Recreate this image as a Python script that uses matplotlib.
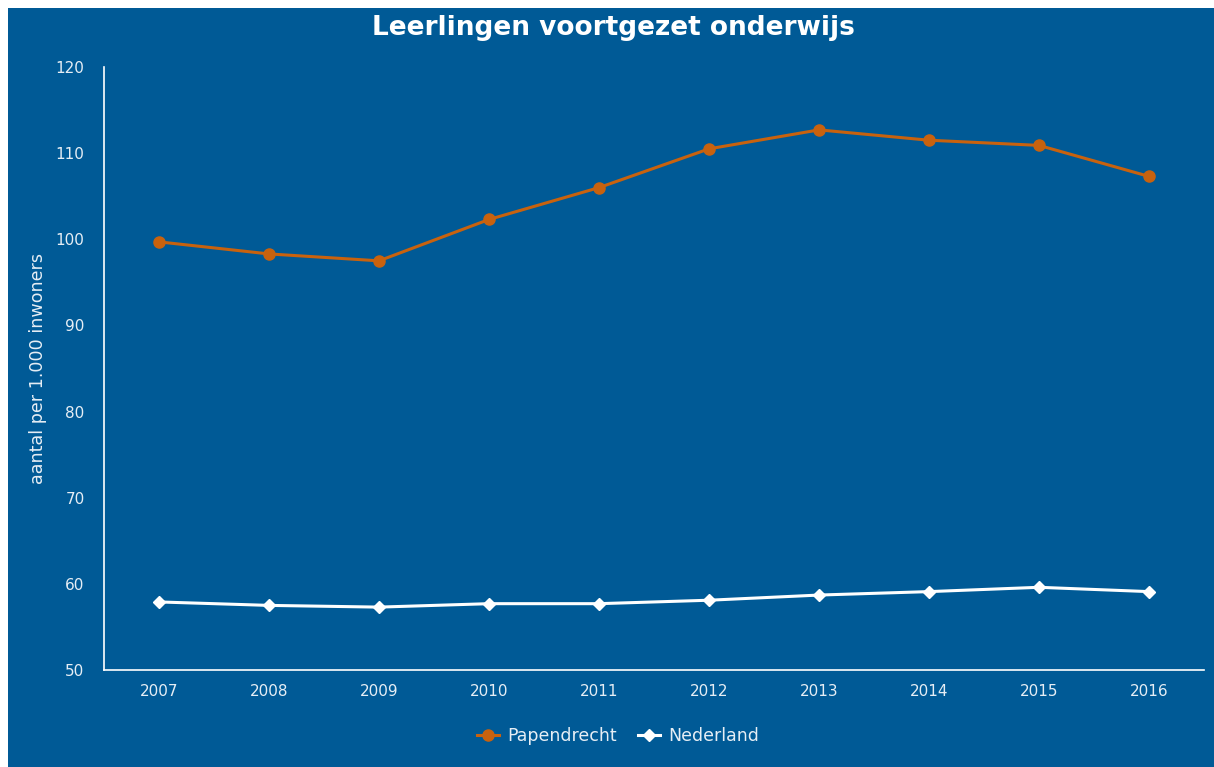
import matplotlib
matplotlib.use("Agg")
import matplotlib.pyplot as plt
from matplotlib.patches import Rectangle

jaren = [2007, 2008, 2009, 2010, 2011, 2012, 2013, 2014, 2015, 2016]
papendrecht = [99.7, 98.3, 97.5, 102.3, 106.0, 110.5, 112.7, 111.5, 110.9, 107.3]
nederland = [57.9, 57.5, 57.3, 57.7, 57.7, 58.1, 58.7, 59.1, 59.6, 59.1]

blauw = '#005a96'
oranje = '#c8620e'
tekst = '#e6eef5'

fig = plt.figure(figsize=(12.14, 7.67), dpi=100, facecolor='white')
# blauwe achtergrond met witte rand links en boven
fig.patches.append(Rectangle((8 / 1214, 0), 1 - 8 / 1214, 1 - 8 / 767,
                             transform=fig.transFigure, facecolor=blauw,
                             edgecolor='none', zorder=-1))

ax = fig.add_axes([104 / 1214, 1 - 670 / 767, 1100 / 1214, 603 / 767])
ax.set_zorder(1)
ax.set_facecolor(blauw)

ax.plot(jaren, papendrecht, marker='o', markersize=8, linewidth=2.2,
        color=oranje, label='Papendrecht')
ax.plot(jaren, nederland, marker='D', markersize=6, linewidth=2.2,
        color='white', label='Nederland')

ax.set_xlim(2006.5, 2016.5)
ax.set_ylim(50, 120)
ax.set_xticks(jaren)
ax.set_yticks(range(50, 121, 10))
ax.tick_params(axis='both', length=0, colors=tekst, labelsize=11)
ax.tick_params(axis='x', pad=10)
ax.tick_params(axis='y', pad=14)

for kant in ['top', 'right']:
    ax.spines[kant].set_visible(False)
ax.spines['left'].set_color('white')
ax.spines['bottom'].set_color('white')
ax.spines['left'].set_linewidth(1.2)
ax.spines['bottom'].set_linewidth(1.2)

ax.set_ylabel('aantal per 1.000 inwoners', color=tekst, fontsize=12.6)
ax.yaxis.set_label_coords(-0.052, 0.5)

fig.text(0.505, 0.963, 'Leerlingen voortgezet onderwijs', ha='center', va='center',
         fontsize=19, fontweight='bold', color='white')

leg = fig.legend(loc='center', bbox_to_anchor=(0.509, 0.04), ncol=2, frameon=False,
                 fontsize=12.5, labelcolor=tekst, handlelength=1.3,
                 columnspacing=1.2, handletextpad=0.46)

fig.savefig('out.png', dpi=100, facecolor='white')
